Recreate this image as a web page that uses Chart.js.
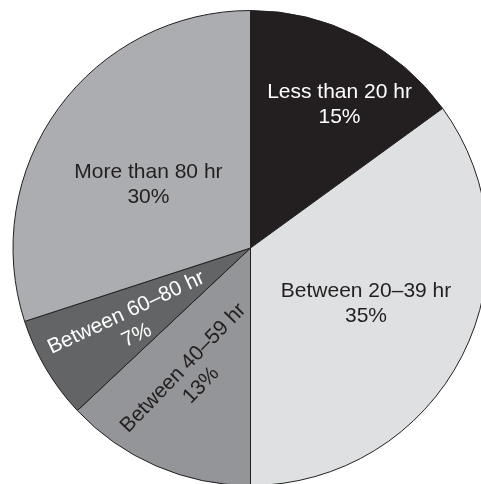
<!DOCTYPE html>
<html>
<head>
<meta charset="utf-8">
<script src="https://cdn.jsdelivr.net/npm/chart.js@4/dist/chart.umd.min.js"></script>
<style>
  html, body { margin: 0; padding: 0; background: #ffffff; overflow: hidden; }
  #wrap { position: absolute; left: 0; top: 0; width: 501px; height: 496px; }
</style>
</head>
<body>
<div id="wrap"><canvas id="pie" width="501" height="496"></canvas></div>
<script>
// Weekly hours categories and their share (percent)
const categories = ['Less than 20 hr', 'Between 20–39 hr', 'Between 40–59 hr', 'Between 60–80 hr', 'More than 80 hr'];
const shares = [15, 35, 13, 7, 30];

// Slice fills and label styling
const fills = ['#231f20', '#dfe0e2', '#949598', '#636466', '#abadb0'];
const textColors = ['#ffffff', '#231f20', '#231f20', '#ffffff', '#231f20'];
// Label placement inside each slice: radial fraction, angular fraction, rotation (deg)
const labelPlace = [
  { r: 0.71, t: 0.59, rot: 0 },
  { r: 0.54, t: 0.49, rot: 0 },
  { r: 0.595, t: 0.52, rot: -46 },
  { r: 0.595, t: 0.42, rot: -25 },
  { r: 0.505, t: 0.46, rot: 0 }
];

const sliceLabels = {
  id: 'sliceLabels',
  afterDatasetsDraw(chart) {
    const ctx = chart.ctx;
    const meta = chart.getDatasetMeta(0);
    const values = chart.data.datasets[0].data;
    ctx.save();
    ctx.font = '21px "Liberation Sans", Arial, sans-serif';
    ctx.textAlign = 'center';
    ctx.textBaseline = 'middle';
    meta.data.forEach((arc, i) => {
      const p = arc.getProps(['x', 'y', 'startAngle', 'endAngle', 'outerRadius'], true);
      const pl = labelPlace[i];
      const a = p.startAngle + pl.t * (p.endAngle - p.startAngle);
      const cx = p.x + Math.cos(a) * pl.r * p.outerRadius;
      const cy = p.y + Math.sin(a) * pl.r * p.outerRadius;
      ctx.save();
      ctx.translate(cx, cy);
      ctx.rotate(pl.rot * Math.PI / 180);
      ctx.fillStyle = textColors[i];
      ctx.fillText(chart.data.labels[i], 0, -12.5);
      ctx.fillText(values[i] + '%', 0, 12.5);
      ctx.restore();
    });
    ctx.restore();
  }
};

new Chart(document.getElementById('pie'), {
  type: 'pie',
  data: {
    labels: categories,
    datasets: [{
      data: shares,
      backgroundColor: fills,
      borderColor: '#231f20',
      borderWidth: 1
    }]
  },
  options: {
    responsive: false,
    animation: false,
    layout: { padding: 10 },
    plugins: {
      legend: { display: false },
      tooltip: { enabled: false }
    }
  },
  plugins: [sliceLabels]
});
</script>
</body>
</html>
